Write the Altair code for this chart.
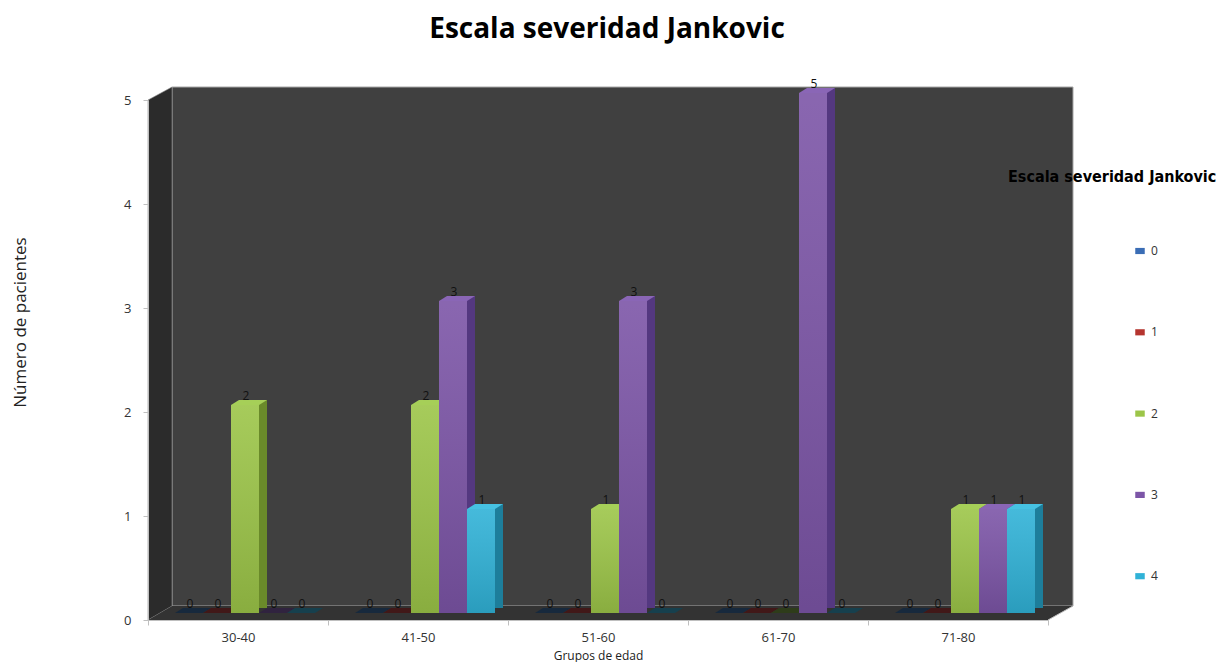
import altair as alt
import pandas as pd

# Age groups and severity levels (Jankovic scale)
groups = ["30-40", "41-50", "51-60", "61-70", "71-80"]
levels = ["0", "1", "2", "3", "4"]

# Number of patients per age group, one list per severity level
level_0 = [0, 0, 0, 0, 0]
level_1 = [0, 0, 0, 0, 0]
level_2 = [2, 2, 1, 0, 1]
level_3 = [0, 3, 3, 5, 1]
level_4 = [0, 1, 0, 0, 1]

# Face colours of the pseudo-3D columns
front_colors = ["#3a6db5", "#b5352f", "#9cc548", "#7c55a7", "#30b2d7"]
side_colors = ["#244a7c", "#7a2220", "#6a8a2a", "#543880", "#1d7e9b"]
top_colors = ["#4c82c8", "#c84a44", "#a6cf58", "#8a66b6", "#46c2e2"]
floor_colors = ["#17293d", "#411818", "#2e3c1a", "#30233f", "#16404e"]

rows = []
for lvl, vals in zip(levels, [level_0, level_1, level_2, level_3, level_4]):
    for g, v in zip(groups, vals):
        rows.append({"grupo": g, "nivel": lvl, "pacientes": v})
df = pd.DataFrame(rows)

W, H = 900, 520
FONT = "Open Sans"

x_enc = alt.X(
    "grupo:N",
    sort=groups,
    scale=alt.Scale(paddingInner=0, paddingOuter=0),
    axis=alt.Axis(
        title="Grupos de edad",
        titleFont=FONT,
        titleFontSize=12,
        titleFontWeight="normal",
        titleColor="#222222",
        titlePadding=6,
        labelFont=FONT,
        labelFontSize=13,
        labelColor="#333333",
        labelAngle=0,
        labelPadding=6,
        tickBand="extent",
        tickSize=5,
        tickColor="#bfbfbf",
        domainColor="#bfbfbf",
        zindex=1,
    ),
)
y_enc = alt.Y(
    "pacientes:Q",
    scale=alt.Scale(domain=[0, 5], nice=False),
    axis=alt.Axis(
        title="Número de pacientes",
        values=[0, 1, 2, 3, 4, 5],
        format="d",
        grid=False,
        labelFont=FONT,
        labelFontSize=13,
        labelColor="#333333",
        labelPadding=12,
        tickSize=5,
        tickColor="#bfbfbf",
        domainColor="#bfbfbf",
        titleFont=FONT,
        titleFontSize=17,
        titleFontWeight="normal",
        titleColor="#222222",
        titleAngle=270,
        titleAlign="center",
        titleBaseline="middle",
        titleX=-128,
        titleY=222,
        zindex=1,
    ),
)


def offset_enc(lo, hi):
    """Position of each severity level inside its age-group band."""
    return alt.XOffset(
        "nivel:N", sort=levels,
        scale=alt.Scale(type="band", domain=levels, range=[lo, hi],
                        paddingInner=0, paddingOuter=0),
    )


front_off = offset_enc(27, 167)   # column fronts
side_off = offset_enc(45, 185)    # right-hand faces, shifted by the depth

deco = alt.Chart(pd.DataFrame({"k": [0]}))

# Chart walls and floor
back_wall = deco.mark_rect(fill="#404040", stroke="#a6a6a6", strokeWidth=1).encode(
    x=alt.value(24), x2=alt.value(925), y=alt.value(-13), y2=alt.value(506)
)
left_wall = deco.mark_point(
    shape="M 0 0 L 24 -13 L 24 506 L 0 520 Z",
    size=4, filled=True, opacity=1, fill="#2b2b2b", stroke="#8c8c8c", strokeWidth=0.6,
).encode(x=alt.value(0), y=alt.value(0))
floor = deco.mark_point(
    shape="M 0 520 L 900 520 L 925 506 L 24 506 Z",
    size=4, filled=True, opacity=1, fill="#333333", strokeWidth=0,
).encode(x=alt.value(0), y=alt.value(0))
floor_edge = deco.mark_rule(color="#bfbfbf", strokeWidth=1).encode(
    x=alt.value(900), y=alt.value(520), x2=alt.value(925), y2=alt.value(506)
)

base = alt.Chart(df).encode(x=x_enc, y=y_enc)

sides = base.mark_bar(width=8, yOffset=-12, y2Offset=-9).encode(
    xOffset=side_off,
    color=alt.Color("nivel:N", sort=levels,
                    scale=alt.Scale(domain=levels, range=side_colors), legend=None),
)

top_shape = "M -14 0 L 14 0 L 22 -5 L -6 -5 Z"
tops = base.mark_point(
    shape=top_shape, size=4, filled=True, opacity=1, strokeWidth=0, yOffset=-7
).encode(
    xOffset=front_off,
    color=alt.Color("nivel:N", sort=levels,
                    scale=alt.Scale(domain=levels, range=top_colors), legend=None),
).transform_filter("datum.pacientes > 0")

floor_tops = base.mark_point(
    shape=top_shape, size=4, filled=True, opacity=1, strokeWidth=0, yOffset=-7
).encode(
    xOffset=front_off,
    color=alt.Color("nivel:N", sort=levels,
                    scale=alt.Scale(domain=levels, range=floor_colors), legend=None),
).transform_filter("datum.pacientes == 0")

fronts = base.mark_bar(yOffset=-7, y2Offset=-7).encode(
    xOffset=front_off,
    color=alt.Color(
        "nivel:N",
        sort=levels,
        scale=alt.Scale(domain=levels, range=front_colors),
        legend=alt.Legend(
            title=None,
            orient="none",
            legendX=986,
            legendY=145,
            symbolType="M -1 -0.65 L 1 -0.65 L 1 0.65 L -1 0.65 Z",
            symbolSize=90,
            symbolStrokeWidth=0,
            labelFont=FONT,
            labelFontSize=12,
            labelColor="#333333",
            labelOffset=5,
            rowPadding=69.3,
        ),
    ),
)

# Soft shading over the column fronts (light at the top, darker at the base)
shading = base.mark_bar(
    yOffset=-7,
    y2Offset=-7,
    fill=alt.LinearGradient(
        gradient="linear",
        x1=0, y1=0, x2=0, y2=1,
        stops=[
            alt.GradientStop(offset=0, color="rgba(255,255,255,0.10)"),
            alt.GradientStop(offset=1, color="rgba(0,0,0,0.12)"),
        ],
    ),
).encode(xOffset=front_off).transform_filter("datum.pacientes > 0")

labels = base.mark_text(
    font=FONT, fontSize=12, color="#111111", dx=1, dy=-12, baseline="alphabetic"
).encode(xOffset=front_off, text=alt.Text("pacientes:Q", format="d"))

legend_title = deco.mark_text(
    text="Escala severidad Jankovic",
    font="DejaVu Sans Condensed, Liberation Sans Narrow, sans-serif",
    fontWeight="bold",
    fontSize=16,
    color="#000000",
    align="left",
    baseline="alphabetic",
).encode(x=alt.value(860), y=alt.value(82))

chart = (
    alt.layer(
        back_wall, left_wall, floor, floor_edge,
        sides, floor_tops, tops, fronts, shading, labels, legend_title,
    )
    .resolve_scale(color="independent", xOffset="independent")
    .properties(
        width=W,
        height=H,
        padding={"left": 148, "top": 100, "right": 175, "bottom": 42},
        autosize=alt.AutoSizeParams(type="none"),
        title=alt.TitleParams(
            text="Escala severidad Jankovic",
            font=FONT,
            fontSize=28,
            fontWeight="bold",
            color="#000000",
            anchor="middle",
            frame="group",
            offset=34,
            dx=9,
        ),
    )
    .configure_view(strokeWidth=0)
    .configure(background="#ffffff")
)

chart.save("out.html", embed_options={"renderer": "svg", "actions": False})
